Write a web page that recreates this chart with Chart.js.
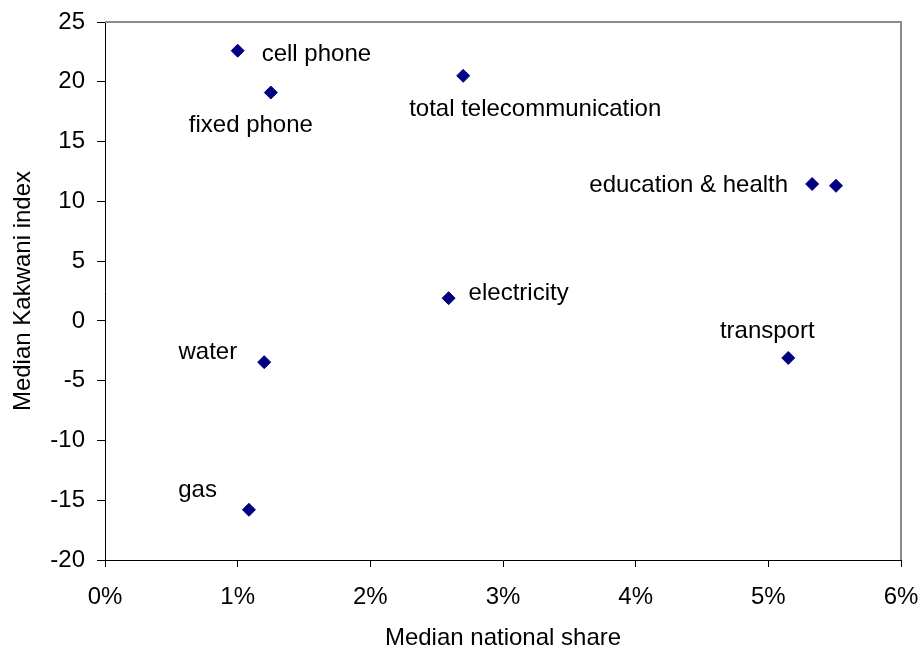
<!DOCTYPE html>
<html>
<head>
<meta charset="utf-8">
<script src="https://cdn.jsdelivr.net/npm/chart.js@4.4.1/dist/chart.umd.min.js"></script>
<style>
  html, body { margin: 0; padding: 0; background: #fff; }
  #wrap { width: 923px; height: 657px; }
</style>
</head>
<body>
<div id="wrap"><canvas id="kakwaniChart"></canvas></div>
<script>
// one entry per point; the second education & health point carries no label
const services = ["cell phone", "fixed phone", "total telecommunication", "education & health", "", "electricity", "transport", "water", "gas"];
const nationalShare = [1.00, 1.25, 2.70, 5.33, 5.51, 2.59, 5.15, 1.20, 1.085]; // in %
const kakwaniIndex = [22.6, 19.1, 20.5, 11.45, 11.3, 1.9, -3.1, -3.45, -15.8];
const xTicks = [0, 1, 2, 3, 4, 5, 6];
const yTicks = [-20, -15, -10, -5, 0, 5, 10, 15, 20, 25];

// where each label sits relative to its marker: [dx, dy(baseline), align]
const labelPlacement = {
  "cell phone": [24, 10, "left"],
  "fixed phone": [-20, 39, "center"],
  "total telecommunication": [72, 40, "center"],
  "education & health": [-24, 8, "right"],
  "electricity": [20, 2, "left"],
  "transport": [-21, -20, "center"],
  "water": [-27, -3, "right"],
  "gas": [-32, -13, "right"]
};

const FONT = "'Liberation Sans', Arial, sans-serif";
const FONT_SIZE = 24;

const pointLabels = {
  id: "pointLabels",
  afterDatasetsDraw(chart) {
    const ctx = chart.ctx;
    const meta = chart.getDatasetMeta(0);
    ctx.save();
    ctx.font = FONT_SIZE + "px " + FONT;
    ctx.fillStyle = "#000";
    ctx.textBaseline = "alphabetic";
    meta.data.forEach((pt, i) => {
      const name = services[i];
      if (!name) return;
      const p = labelPlacement[name];
      ctx.textAlign = p[2];
      ctx.fillText(name, pt.x + p[0], pt.y + p[1]);
    });
    ctx.restore();
  }
};

// grey frame on the top and right sides of the plot area
const plotFrame = {
  id: "plotFrame",
  beforeDatasetsDraw(chart) {
    const { ctx, chartArea: a } = chart;
    ctx.save();
    ctx.strokeStyle = "#8c8c8c";
    ctx.lineWidth = 2;
    ctx.beginPath();
    ctx.moveTo(a.left, a.top);
    ctx.lineTo(a.right, a.top);
    ctx.lineTo(a.right, a.bottom);
    ctx.stroke();
    ctx.restore();
  }
};

const ctx = document.getElementById("kakwaniChart").getContext("2d");
new Chart(ctx, {
  type: "scatter",
  data: {
    datasets: [
      {
        label: "Kakwani",
        data: nationalShare.map((x, i) => ({ x: x, y: kakwaniIndex[i] })),
        pointStyle: "rectRot",
        pointRadius: 6.5,
        pointHoverRadius: 6.5,
        backgroundColor: "#000080",
        borderColor: "#000080",
        borderWidth: 1,
      },
    ],
  },
  options: {
    responsive: true,
    maintainAspectRatio: false,
    animation: false,
    events: [],
    layout: {
      padding: { top: 22, right: 22, left: 0, bottom: 0 },
    },
    plugins: {
      legend: { display: false },
      tooltip: { enabled: false },
    },
    scales: {
      x: {
        type: "linear",
        min: 0,
        max: 6,
        afterBuildTicks: (s) => { s.ticks = xTicks.map(v => ({ value: v })); },
        afterFit: (s) => {
          s.height = 97;
          s.paddingLeft = 0;
          s.paddingRight = 0;
        },
        grid: { drawOnChartArea: false, tickLength: 7, color: "#000" },
        border: { color: "#000", width: 1 },
        ticks: {
          padding: 16,
          color: "#000",
          font: { family: FONT, size: FONT_SIZE },
          callback: (v) => v + "%",
        },
        title: {
          display: true,
          text: "Median national share",
          color: "#000",
          font: { family: FONT, size: FONT_SIZE },
          padding: { top: 0, bottom: 4 },
        },
      },
      y: {
        type: "linear",
        min: -20,
        max: 25,
        afterBuildTicks: (s) => { s.ticks = yTicks.map(v => ({ value: v })); },
        afterFit: (s) => {
          s.width = 105;
          s.paddingTop = 0;
          s.paddingBottom = 0;
        },
        grid: { drawOnChartArea: false, tickLength: 8, color: "#000" },
        border: { color: "#000", width: 1 },
        ticks: {
          padding: 12,
          color: "#000",
          font: { family: FONT, size: FONT_SIZE },
        },
        title: {
          display: true,
          text: "Median Kakwani index",
          color: "#000",
          font: { family: FONT, size: FONT_SIZE },
          padding: { top: 9, bottom: 0 },
        },
      },
    },
  },
  plugins: [plotFrame, pointLabels],
});
</script>
</body>
</html>
